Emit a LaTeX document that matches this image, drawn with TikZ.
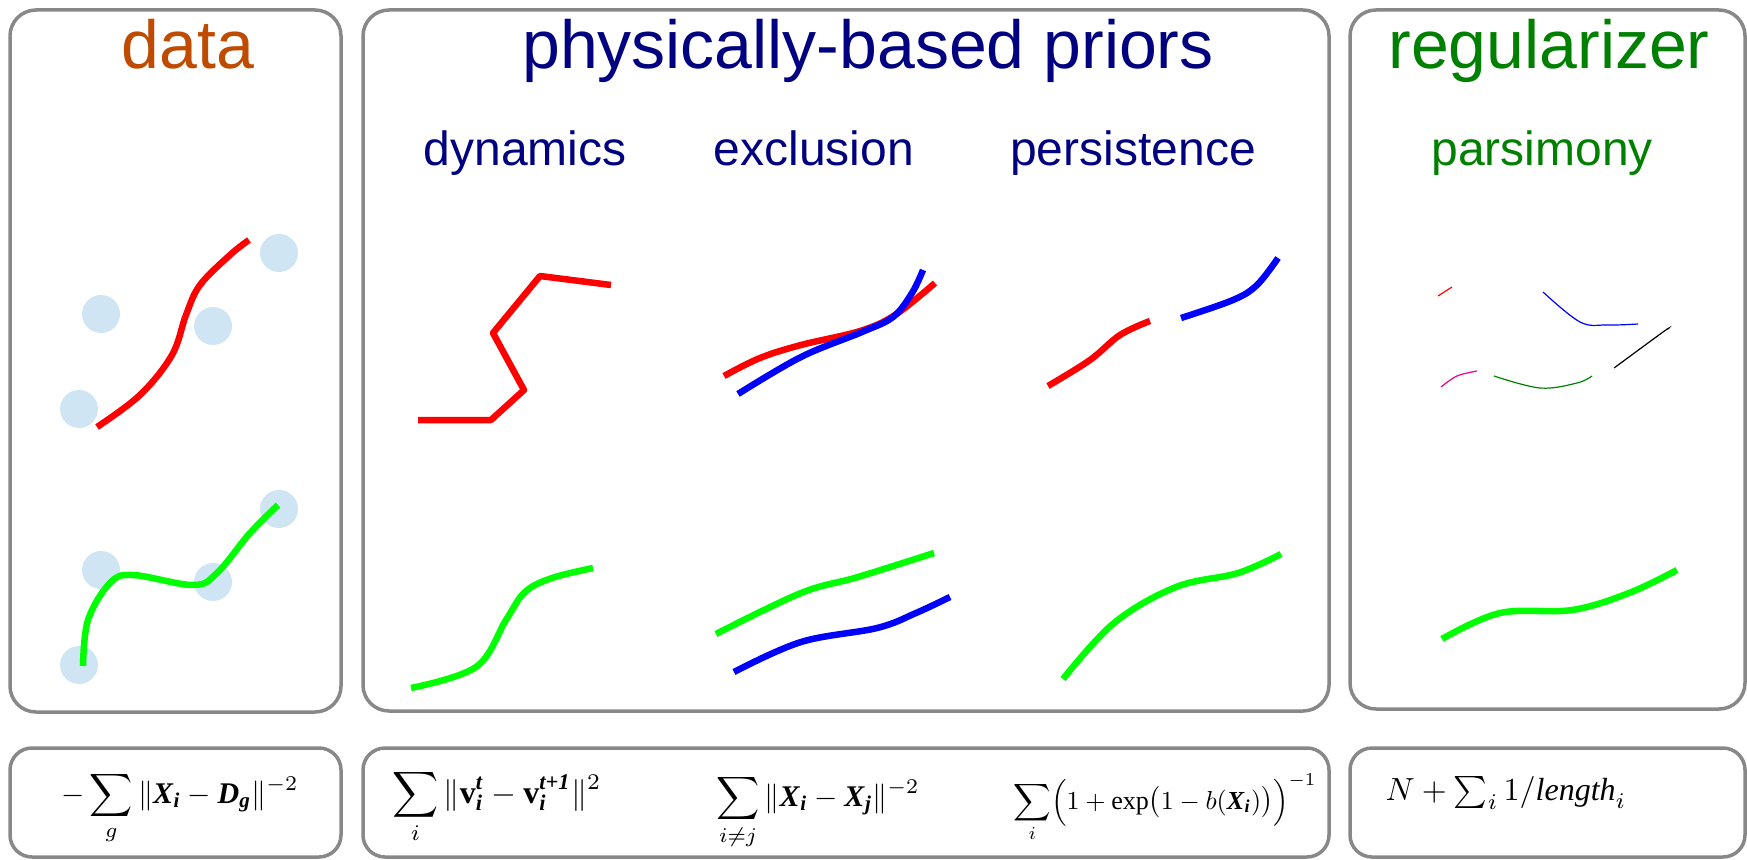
\documentclass[tikz,border=0pt]{standalone}
\usepackage{amsmath,amssymb}
\usepackage{fontspec}
\setmainfont{Liberation Serif}
\newfontfamily\headfont{Liberation Sans}
\usepackage{tikz}
\definecolor{dataOrange}{RGB}{190,75,0}
\definecolor{priorNavy}{RGB}{0,0,128}
\definecolor{regGreen}{RGB}{0,128,0}
\definecolor{panelGray}{RGB}{136,136,136}
\definecolor{blobBlue}{RGB}{207,229,243}
\definecolor{trackGreen}{RGB}{0,255,0}
\newcommand{\bvar}[1]{\textbf{\textit{#1}}}

\begin{document}
\begin{tikzpicture}[x=1pt,y=-1pt,
    panel/.style={draw=panelGray, line width=3.5pt, rounded corners=26pt},
    formbox/.style={draw=panelGray, line width=3.5pt, rounded corners=22pt},
    title/.style={font=\headfont\fontsize{68}{70}\selectfont, anchor=base, inner sep=0pt},
    subtitle/.style={font=\headfont\fontsize{48}{50}\selectfont, anchor=base, inner sep=0pt},
    formula/.style={anchor=base, inner sep=0pt},
    track/.style={line width=6.5pt},
    thintrack/.style={line width=1.2pt}]
  \useasboundingbox (0,0) rectangle (1747,859);

  \draw[panel] (10,10) rectangle (341,712);
  \draw[panel] (363,10) rectangle (1329,711);
  \draw[panel] (1350,10) rectangle (1745,709);
  \draw[formbox] (10,748) rectangle (341,857);
  \draw[formbox] (363,748) rectangle (1329,857);
  \draw[formbox] (1350,748) rectangle (1745,857);

  \node[title, dataOrange] (dataTitle) at (188,68) {data};
  \node[title, priorNavy] (priorTitle) at (868,68) {physically-based priors};
  \node[title, regGreen] (regTitle) at (1549,68) {regularizer};
  \node[subtitle, priorNavy] (dynLabel) at (525,165) {dynamics};
  \node[subtitle, priorNavy] (exclLabel) at (814,165) {exclusion};
  \node[subtitle, priorNavy] (persLabel) at (1133,165) {persistence};
  \node[subtitle, regGreen] (parsLabel) at (1542,165) {parsimony};

  % detections
  \foreach \dx/\dy in {279/253, 101/314, 213/326, 79/409} {
    \fill[blobBlue] (\dx,\dy) circle (19pt);
    \fill[blobBlue] (\dx,\dy+256) circle (19pt);
  }
  \draw[track, red] plot[smooth, tension=0.6] coordinates {(97,427) (140,395) (172,355) (186,315) (200,285) (230,255) (249,240)};
  \draw[track, trackGreen] plot[smooth, tension=0.6] coordinates {(83,666) (88,620) (110,583) (133,575) (193,585) (217,573) (250,533) (278,505)};

  % dynamics
  \draw[track, red, line join=round] (418,420) -- (491,420) -- (524,390) -- (493,333) -- (540,276) -- (611,285);
  \draw[track, trackGreen] plot[smooth, tension=0.6] coordinates {(411,688) (476,667) (506,620) (525,592) (552,578) (593,568)};

  % exclusion
  \draw[track, red] plot[smooth, tension=0.6] coordinates {(724,376) (760,358) (801,345) (860,331) (895,315) (935,283)};
  \draw[track, blue] plot[smooth, tension=0.6] coordinates {(738,394) (801,357) (862,332) (893,317) (912,293) (923,270)};
  \draw[track, trackGreen] plot[smooth, tension=0.6] coordinates {(716,634) (801,593) (858,577) (934,553)};
  \draw[track, blue] plot[smooth, tension=0.6] coordinates {(734,672) (801,642) (877,628) (916,613) (950,597)};

  % persistence
  \draw[track, red] plot[smooth, tension=0.6] coordinates {(1048,386) (1090,360) (1120,335) (1150,321)};
  \draw[track, blue] plot[smooth, tension=0.6] coordinates {(1181,318) (1233,300) (1257,285) (1278,258)};
  \draw[track, trackGreen] plot[smooth, tension=0.6] coordinates {(1063,679) (1114,623) (1176,587) (1238,573) (1281,554)};

  % parsimony
  \draw[thintrack, red] (1438,296) -- (1452,287);
  \draw[thintrack, blue] plot[smooth, tension=0.6] coordinates {(1543,292) (1580,322) (1607,325) (1638,324)};
  \draw[thintrack, black] plot[smooth, tension=0.6] coordinates {(1614,368) (1663,332) (1668,329)};
  \draw[thintrack, magenta] plot[smooth, tension=0.6] coordinates {(1441,387) (1457,376) (1477,371)};
  \draw[thintrack, regGreen] plot[smooth, tension=0.6] coordinates {(1494,376) (1540,388) (1577,383) (1592,376)};
  \draw[track, trackGreen] plot[smooth, tension=0.6] coordinates {(1442,639) (1500,613) (1572,610) (1629,593) (1677,570)};

  \node[formula, scale=3.0] (dataCost) at (180,803) {$-\displaystyle\sum_{g}\|\bvar{X}_{\bvar{i}}-\bvar{D}_{\bvar{g}}\|^{-2}$};
  \node[formula, scale=3.2] (dynCost) at (497,803) {$\displaystyle\sum_{i}\|\mathbf{v}_{\bvar{i}}^{\bvar{t}}-\mathbf{v}_{\bvar{i}}^{\bvar{t+1}}\|^{2}$};
  \node[formula, scale=3.0] (exclCost) at (818,806) {$\displaystyle\sum_{i\neq j}\|\bvar{X}_{\bvar{i}}-\bvar{X}_{\bvar{j}}\|^{-2}$};
  \node[formula, scale=2.6] (persCost) at (1165,809) {$\displaystyle\sum_{i}\Bigl(1+\exp\bigl(1-b(\bvar{X}_{\bvar{i}})\bigr)\Bigr)^{-1}$};
  \node[formula, scale=3.2] (regCost) at (1506,800) {$N+\sum_{i}1/\textit{length}_{i}$};
\end{tikzpicture}
\end{document}
